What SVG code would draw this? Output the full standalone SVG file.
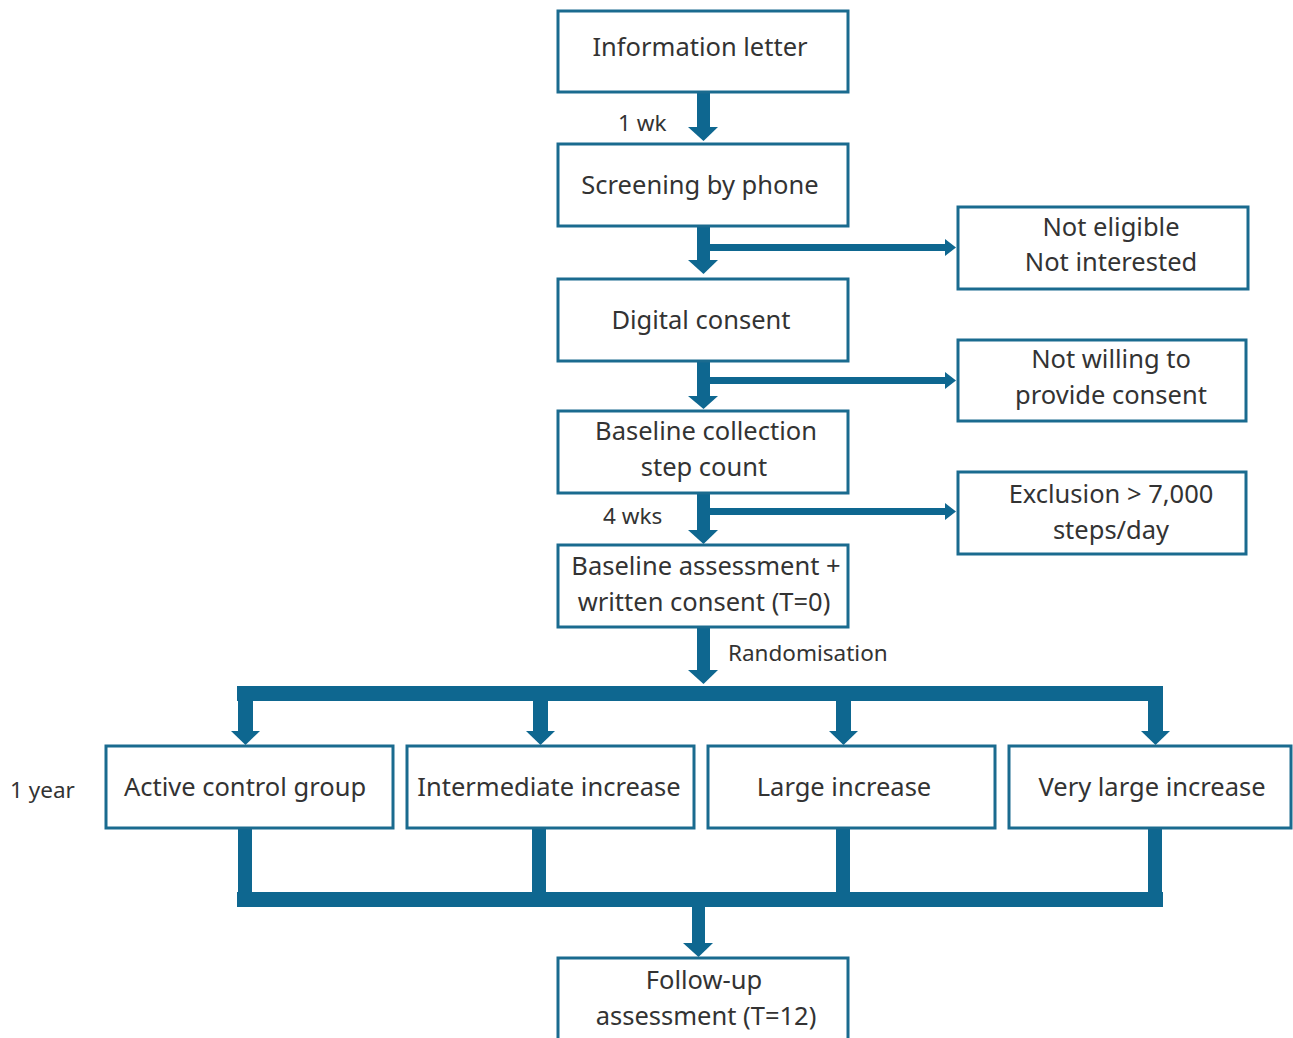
<svg xmlns="http://www.w3.org/2000/svg" width="1293" height="1038" viewBox="0 0 1293 1038">
<style>
.box{fill:#fff;stroke:#1a6b8f;stroke-width:3}
.t{font-family:"Noto Sans","Liberation Sans",sans-serif;font-size:25.5px;fill:#333;text-anchor:middle}
.s{font-family:"Noto Sans","Liberation Sans",sans-serif;font-size:22.5px;fill:#333}
.c{fill:#0e6790}
</style>
<rect width="1293" height="1038" fill="#fff"/>
<g id="connectors" class="c">
<rect x="697" y="92" width="13" height="36"/><polygon points="688,127 718,127 703.5,141"/>
<rect x="697" y="226" width="13" height="35"/><polygon points="688,260 718,260 703.5,274"/>
<rect x="710" y="244" width="236" height="7"/><polygon points="945,239 956,247.5 945,256"/>
<rect x="697" y="361" width="13" height="36"/><polygon points="688,396 718,396 703.5,409"/>
<rect x="710" y="377" width="236" height="7"/><polygon points="945,372 956,380.5 945,389"/>
<rect x="697" y="493" width="13" height="38"/><polygon points="688,530 718,530 703.5,544"/>
<rect x="710" y="508" width="236" height="7"/><polygon points="945,503 956,511.5 945,520"/>
<rect x="697" y="627" width="13" height="44"/><polygon points="688,670 718,670 703.5,684"/>
<rect x="237" y="686" width="926" height="15"/>
<rect x="238" y="686" width="15" height="46"/><polygon points="231,731 260,731 245.5,745"/>
<rect x="533" y="686" width="15" height="46"/><polygon points="526,731 555,731 540.5,745"/>
<rect x="836" y="686" width="15" height="46"/><polygon points="829,731 858,731 843.5,745"/>
<rect x="1148" y="686" width="15" height="46"/><polygon points="1141,731 1170,731 1155.5,745"/>
<rect x="238" y="828" width="14" height="79"/>
<rect x="532" y="828" width="14" height="79"/>
<rect x="836" y="828" width="14" height="79"/>
<rect x="1148" y="828" width="14" height="79"/>
<rect x="237" y="892" width="926" height="15"/>
<rect x="692" y="907" width="13" height="37"/><polygon points="683,943 713,943 698.5,957"/>
</g>
<g id="n1"><rect class="box" x="558" y="11" width="290" height="81"/><text class="t" x="700" y="56">Information letter</text></g>
<text class="s" x="618" y="131">1 wk</text>
<g id="n2"><rect class="box" x="558" y="144" width="290" height="82"/><text class="t" x="700" y="194">Screening by phone</text></g>
<g id="n3"><rect class="box" x="958" y="207" width="290" height="82"/><text class="t" x="1111" y="236">Not eligible</text><text class="t" x="1111" y="271">Not interested</text></g>
<g id="n4"><rect class="box" x="558" y="279" width="290" height="82"/><text class="t" x="701" y="329">Digital consent</text></g>
<g id="n5"><rect class="box" x="958" y="340" width="288" height="81"/><text class="t" x="1111" y="368">Not willing to</text><text class="t" x="1111" y="404">provide consent</text></g>
<g id="n6"><rect class="box" x="558" y="411" width="290" height="82"/><text class="t" x="706" y="440">Baseline collection</text><text class="t" x="704" y="476">step count</text></g>
<g id="n7"><rect class="box" x="958" y="472" width="288" height="82"/><text class="t" x="1111" y="503">Exclusion &gt; 7,000</text><text class="t" x="1111" y="539">steps/day</text></g>
<text class="s" x="603" y="524">4 wks</text>
<g id="n8"><rect class="box" x="558" y="545" width="290" height="82"/><text class="t" x="706" y="575">Baseline assessment +</text><text class="t" x="704" y="611">written consent (T=0)</text></g>
<text class="s" x="728" y="661">Randomisation</text>
<text class="s" x="10" y="798">1 year</text>
<g id="n9"><rect class="box" x="106" y="746" width="287" height="82"/><text class="t" x="245" y="796">Active control group</text></g>
<g id="n10"><rect class="box" x="407" y="746" width="287" height="82"/><text class="t" x="549" y="796">Intermediate increase</text></g>
<g id="n11"><rect class="box" x="708" y="746" width="287" height="82"/><text class="t" x="844" y="796">Large increase</text></g>
<g id="n12"><rect class="box" x="1009" y="746" width="282" height="82"/><text class="t" x="1152" y="796">Very large increase</text></g>
<g id="n13"><rect class="box" x="558" y="958" width="290" height="84"/><text class="t" x="704" y="989">Follow-up</text><text class="t" x="706" y="1025">assessment (T=12)</text></g>
</svg>
